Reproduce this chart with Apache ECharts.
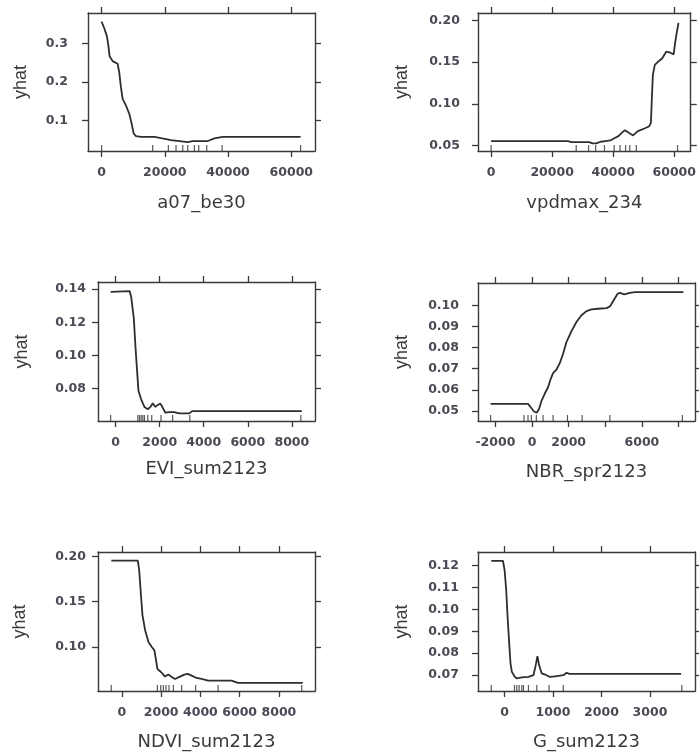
<!DOCTYPE html>
<html><head><meta charset="utf-8">
<script src="https://cdn.jsdelivr.net/npm/echarts@6/dist/echarts.min.js"></script>
<style>html,body{margin:0;padding:0;background:#fff}#c{width:699px;height:754px}</style>
</head><body><div id="c"></div>
<script>
// ---- data: partial dependence curves (x, yhat) and decile rugs ----
const a07_x    = [0,845,1690,2112,2534,3485,5069,5597,6125,6653,7709,8765,9504,10138,10877,12461,16685,18797,21965,24605,27245,28829,33581,35693,38333,62938];
const a07_yhat = [0.3575,0.3403,0.319,0.297,0.267,0.2545,0.2476,0.2245,0.1858,0.156,0.1386,0.117,0.0914,0.0657,0.0588,0.0571,0.0571,0.0536,0.0485,0.046,0.0434,0.046,0.046,0.0528,0.0571,0.0571];
const a07_rug  = [0,16157,21120,23549,25661,27245,29357,30730,33264,38122,62938];

const vpd_x    = [0,25217,26281,32133,33197,34474,35857,37453,39049,40645,41709,42773,43837,45114,46497,48093,50221,51817,52349,52668,52987,53626,55009,56073,57350,58733,59797,60329,60861,61393];
const vpd_yhat = [0.0552,0.0552,0.054,0.054,0.0524,0.0524,0.0544,0.0552,0.056,0.0592,0.0612,0.0651,0.0683,0.0651,0.062,0.0671,0.0703,0.0731,0.0771,0.107,0.1348,0.1467,0.1515,0.1547,0.1626,0.1614,0.1594,0.1745,0.1865,0.1972];
const vpd_rug  = [0,27877,31920,34261,37134,40326,42241,44050,45433,47561,61074];

const evi_x    = [-226,632,707,827,902,963,1038,1158,1308,1459,1579,1684,1805,1910,2030,2136,2256,2436,2662,2888,3339,3489,8452];
const evi_yhat = [0.1384,0.1388,0.1353,0.1222,0.1049,0.0928,0.0786,0.0735,0.0689,0.0675,0.0689,0.0711,0.0689,0.0701,0.0709,0.0685,0.0654,0.0658,0.0658,0.065,0.065,0.0664,0.0664];
const evi_rug  = [-226,1008,1083,1158,1233,1308,1459,1639,2060,2587,3369,8407];

const nbr_x    = [-2263,-219,-73,110,256,383,511,694,876,1022,1150,1332,1515,1697,1880,2154,2427,2701,2975,3249,3614,4070,4252,4435,4672,4800,5037,5347,5621,8267];
const nbr_yhat = [0.0533,0.0533,0.0517,0.0497,0.0491,0.0509,0.0546,0.0581,0.0612,0.0652,0.0679,0.0695,0.0726,0.0771,0.0826,0.0878,0.0921,0.0953,0.0973,0.0981,0.0984,0.0987,0.0995,0.1021,0.1055,0.1059,0.1052,0.1059,0.1063,0.1063];
const nbr_rug  = [-2263,-438,-219,-37,237,602,1150,1935,2738,4252,8212];

const ndvi_x    = [-541,812,879,964,1048,1184,1353,1522,1657,1742,1809,1945,2080,2198,2367,2503,2706,2959,3179,3348,3551,3805,4058,4397,5073,5580,5919,9216];
const ndvi_yhat = [0.1952,0.1952,0.1852,0.1593,0.1352,0.1185,0.1056,0.1,0.0963,0.0852,0.0759,0.0733,0.0704,0.0674,0.0696,0.0674,0.0648,0.0674,0.0696,0.0704,0.0685,0.0659,0.0648,0.063,0.063,0.063,0.0604,0.0604];
const ndvi_rug  = [-541,1809,1979,2114,2249,2401,2621,3044,3754,4904,9166];

const g_x    = [-274,-34,0,34,62,96,123,151,205,253,356,493,596,644,678,712,767,836,938,1041,1212,1281,1336,3644];
const g_yhat = [0.1221,0.1221,0.118,0.1089,0.0967,0.0845,0.0753,0.0715,0.0695,0.0685,0.069,0.0692,0.07,0.0746,0.0787,0.0746,0.0708,0.0703,0.0692,0.0695,0.07,0.0711,0.0706,0.0706];
const g_rug  = [-274,205,253,301,356,390,493,664,918,1212,3658];

// ---- tick values and labels ----
const a07_xticks = [0,20000,40000,60000],        a07_yticks = [0.1,0.2,0.3];
const vpd_xticks = [0,20000,40000,60000],        vpd_yticks = [0.05,0.10,0.15,0.20];
const evi_xticks = [0,2000,4000,6000,8000],      evi_yticks = [0.08,0.10,0.12,0.14];
const nbr_xticks = [-2000,0,2000,4000,6000,8000], nbr_xlabels = [-2000,0,2000,6000];
const nbr_yticks = [0.05,0.06,0.07,0.08,0.09,0.10];
const ndvi_xticks = [0,2000,4000,6000,8000],     ndvi_yticks = [0.10,0.15,0.20];
const g_xticks = [0,1000,2000,3000],             g_yticks = [0.07,0.08,0.09,0.10,0.11,0.12];

const names = ['a07_be30','vpdmax_234','EVI_sum2123','NBR_spr2123','NDVI_sum2123','G_sum2123'];

// ---- layout (styling only) ----
const panels = [
  {name:names[0], x:a07_x, y:a07_yhat, rug:a07_rug, xt:a07_xticks, xl:a07_xticks, yt:a07_yticks, dec:1,
   grid:{left:88,top:13,width:227,height:138}, xr:[-4300,67500], yr:[0.02,0.38], ym:20, yg:58, xg:43},
  {name:names[1], x:vpd_x, y:vpd_yhat, rug:vpd_rug, xt:vpd_xticks, xl:vpd_xticks, yt:vpd_yticks, dec:2,
   grid:{left:478,top:13,width:217,height:138}, xr:[-4300,65400], yr:[0.0433,0.2091], ym:18, yg:67, xg:43},
  {name:names[2], x:evi_x, y:evi_yhat, rug:evi_rug, xt:evi_xticks, xl:evi_xticks, yt:evi_yticks, dec:2,
   grid:{left:98,top:282,width:217,height:139}, xr:[-800,9050], yr:[0.0604,0.1443], ym:12, yg:67, xg:39},
  {name:names[3], x:nbr_x, y:nbr_yhat, rug:nbr_rug, xt:nbr_xticks, xl:nbr_xlabels, yt:nbr_yticks, dec:2,
   grid:{left:478,top:283,width:217,height:138}, xr:[-2950,8900], yr:[0.0452,0.1106], ym:19, yg:67, xg:42},
  {name:names[4], x:ndvi_x, y:ndvi_yhat, rug:ndvi_rug, xt:ndvi_xticks, xl:ndvi_xticks, yt:ndvi_yticks, dec:2,
   grid:{left:98,top:552,width:217,height:139}, xr:[-1218,9840], yr:[0.0515,0.2048], ym:12, yg:69, xg:42},
  {name:names[5], x:g_x, y:g_yhat, rug:g_rug, xt:g_xticks, xl:g_xticks, yt:g_yticks, dec:2,
   grid:{left:478,top:552,width:217,height:139}, xr:[-548,3930], yr:[0.0628,0.1261], ym:19, yg:67, xg:42}
];

const INK = '#3a3a3a', LAB = '#4a4a55';
const lblFont = {fontFamily:'DejaVu Sans', fontWeight:'bold', fontSize:12.5, color:LAB};
const option = {animation:false, backgroundColor:'#fff', grid:[], xAxis:[], yAxis:[], series:[]};

panels.forEach((p,i)=>{
  option.grid.push(Object.assign({containLabel:false}, p.grid));
  const line = {show:true, onZero:false, lineStyle:{color:INK, width:1.4}};
  const tick = (vals)=>({show:true, inside:false, length:6, customValues:vals, lineStyle:{color:INK, width:1.3}});
  // bottom x
  option.xAxis.push({type:'value', gridIndex:i, position:'bottom', min:p.xr[0], max:p.xr[1],
    axisLine:line, axisTick:tick(p.xt), splitLine:{show:false},
    axisLabel:Object.assign({show:true, margin:15, customValues:p.xl, formatter:v=>String(v)}, lblFont),
    name:p.name, nameLocation:'middle', nameGap:p.xg,
    nameTextStyle:{fontFamily:'DejaVu Sans', fontSize:18, color:'#3a3a3a'}});
  // top x
  option.xAxis.push({type:'value', gridIndex:i, position:'top', min:p.xr[0], max:p.xr[1],
    axisLine:line, axisTick:tick(p.xt), splitLine:{show:false}, axisLabel:{show:false}});
  // left y
  option.yAxis.push({type:'value', gridIndex:i, position:'left', min:p.yr[0], max:p.yr[1],
    axisLine:line, axisTick:tick(p.yt), splitLine:{show:false},
    axisLabel:Object.assign({show:true, margin:p.ym, customValues:p.yt, formatter:v=>v.toFixed(p.dec)}, lblFont),
    name:'yhat', nameLocation:'middle', nameGap:p.yg,
    nameTextStyle:{fontFamily:'Liberation Sans', fontSize:18, color:'#3a3a3a'}});
  // right y
  option.yAxis.push({type:'value', gridIndex:i, position:'right', min:p.yr[0], max:p.yr[1],
    axisLine:line, axisTick:tick(p.yt), splitLine:{show:false}, axisLabel:{show:false}});

  option.series.push({type:'line', xAxisIndex:2*i, yAxisIndex:2*i, showSymbol:false, silent:true,
    data:p.x.map((v,k)=>[v,p.y[k]]), lineStyle:{color:'#2e2e2e', width:1.8}, clip:true});
  option.series.push({type:'scatter', xAxisIndex:2*i, yAxisIndex:2*i, silent:true,
    symbol:'rect', symbolSize:[1.2,6], symbolOffset:[0,-3],
    itemStyle:{color:'#2e2e2e'},
    data:p.rug.map(v=>[v,p.yr[0]])});
});

echarts.init(document.getElementById('c'), null, {renderer:'canvas'}).setOption(option);
</script></body></html>
